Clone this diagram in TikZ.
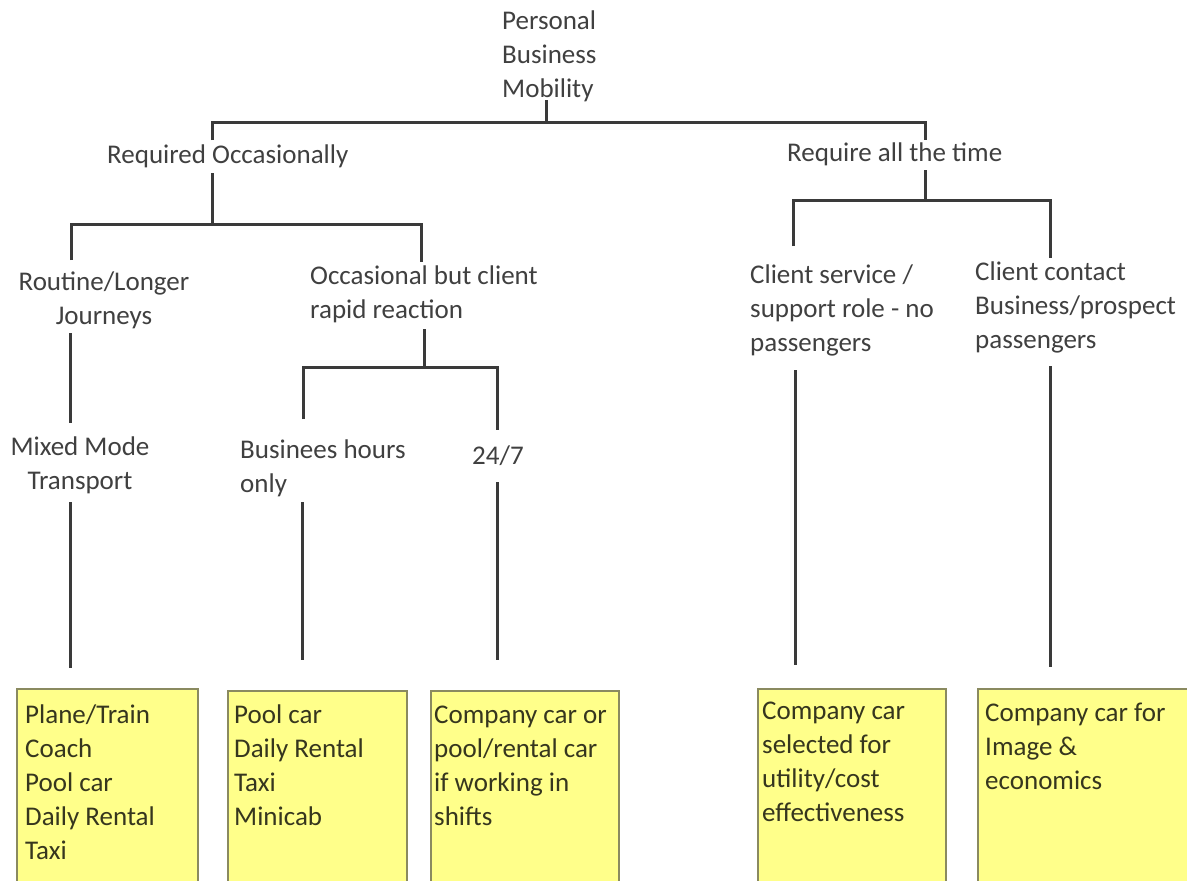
\documentclass[tikz,border=0pt]{standalone}
\usepackage{fontspec}
\setmainfont{Carlito}
\definecolor{linec}{HTML}{3A3A3A}
\definecolor{txt}{HTML}{404040}
\definecolor{boxfill}{HTML}{FFFF8A}
\definecolor{boxline}{HTML}{8A8A60}
\definecolor{boxtxt}{HTML}{36361E}
\tikzset{
  lbl/.style={font=\fontsize{27}{34}\selectfont, text=txt, inner sep=0pt, align=left, anchor=north west},
  lblc/.style={lbl, align=center, anchor=north},
  conn/.style={draw=linec, line width=3pt},
  card/.style={draw=boxline, fill=boxfill, line width=1.5pt, inner sep=0pt, anchor=north west},
  cardtxt/.style={lbl, text=boxtxt},
}
\begin{document}
\begin{tikzpicture}[x=1pt,y=-1pt]
\useasboundingbox (0,0) rectangle (1187,881);
\clip (0,0) rectangle (1187,881);
\fill[white] (0,0) rectangle (1187,881);

% labels
\node[lbl] (root) at (502,5.2) {\strut Personal\\Business\\Mobility};
\node[lbl] (occ) at (107,139.2) {\strut Required Occasionally};
\node[lbl] (all) at (787,137.2) {\strut Require all the time};
\node[lblc] (routine) at (104,266.2) {\strut Routine/Longer\\Journeys};
\node[lbl] (rapid) at (310,260.2) {\strut Occasional but client\\rapid reaction};
\node[lblc] (mixed) at (80,431.2) {\strut Mixed Mode\\Transport};
\node[lbl] (bhours) at (240,434.2) {\strut Businees hours\\only};
\node[lbl] (tf) at (472,440.2) {\strut 24/7};
\node[lbl] (csupp) at (750,259.2) {\strut Client service /\\support role - no\\passengers};
\node[lbl] (ccont) at (975,256.2) {\strut Client contact\\Business/prospect\\passengers};

% cards
\node[card, minimum width=181pt, minimum height=200pt] (b1) at (16,688) {};
\node[card, minimum width=179pt, minimum height=200pt] (b2) at (227,690) {};
\node[card, minimum width=188pt, minimum height=200pt] (b3) at (430,690) {};
\node[card, minimum width=188pt, minimum height=200pt] (b4) at (757,688) {};
\node[card, minimum width=220pt, minimum height=200pt] (b5) at (977,688) {};

\node[cardtxt] (t1) at (25,699.2) {\strut Plane/Train\\Coach\\Pool car\\Daily Rental\\Taxi};
\node[cardtxt] (t2) at (234,699.2) {\strut Pool car\\Daily Rental\\Taxi\\Minicab};
\node[cardtxt] (t3) at (434,699.2) {\strut Company car or\\pool/rental car\\if working in\\shifts};
\node[cardtxt] (t4) at (762,695.2) {\strut Company car\\selected for\\utility/cost\\effectiveness};
\node[cardtxt] (t5) at (985,697.2) {\strut Company car for\\Image \&\\economics};

% connector end points
\coordinate (rootB) at (546,100);
\coordinate (occT) at (212,140);
\coordinate (allT) at (925,140);
\coordinate (occB) at (212,173);
\coordinate (routineT) at (71,260);
\coordinate (rapidT) at (421,262);
\coordinate (rapidB) at (424,329);
\coordinate (bhoursT) at (303,419);
\coordinate (tfT) at (497,430);
\coordinate (routineB) at (70,333);
\coordinate (mixedT) at (70,423);
\coordinate (mixedB) at (70,502);
\coordinate (bhoursB) at (302,502);
\coordinate (tfB) at (497,482);
\coordinate (allB) at (925,170);
\coordinate (csuppT) at (793,246);
\coordinate (ccontT) at (1050,258);
\coordinate (csuppB) at (795,370);
\coordinate (ccontB) at (1050,366);
\coordinate (b1T) at (70,668);
\coordinate (b2T) at (302,660);
\coordinate (b3T) at (497,660);
\coordinate (b4T) at (795,665);
\coordinate (b5T) at (1050,667);

% connectors
\draw[conn] (rootB) -- (546,122);
\draw[conn] (occT) |- (allT |- 0,122) -- (allT);
\draw[conn] (occB) -- (212,224);
\draw[conn] (routineT) |- (rapidT |- 0,224) -- (rapidT);
\draw[conn] (rapidB) -- (424,367);
\draw[conn] (bhoursT) |- (tfT |- 0,367) -- (tfT);
\draw[conn] (routineB) -- (mixedT);
\draw[conn] (mixedB) -- (b1T);
\draw[conn] (bhoursB) -- (b2T);
\draw[conn] (tfB) -- (b3T);
\draw[conn] (allB) -- (925,200);
\draw[conn] (csuppT) |- (ccontT |- 0,200) -- (ccontT);
\draw[conn] (csuppB) -- (b4T);
\draw[conn] (ccontB) -- (b5T);
\end{tikzpicture}
\end{document}
